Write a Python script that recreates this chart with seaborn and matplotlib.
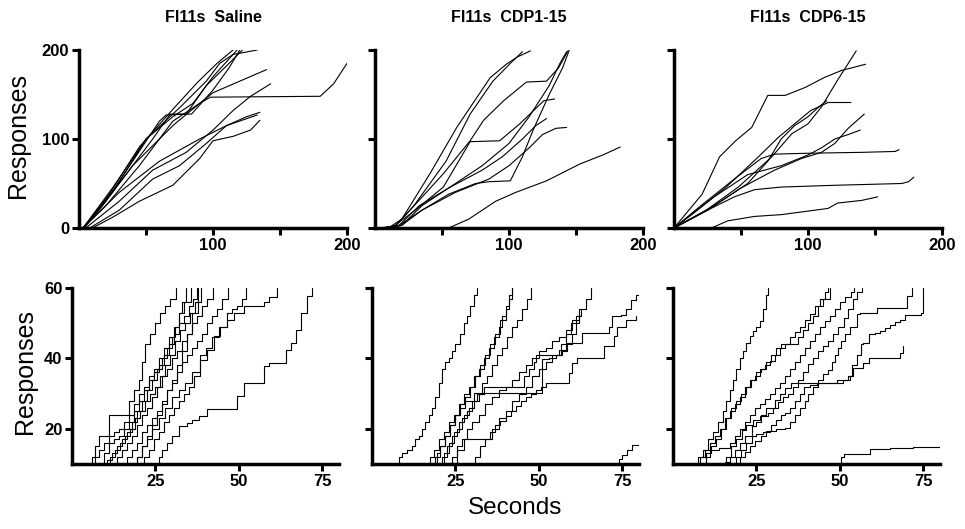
import pandas as pd
import matplotlib
matplotlib.use('Agg')
import matplotlib.pyplot as plt
import seaborn as sns

# cumulative records, one list per session (x = seconds, y = responses)
titles = ['FI11s  Saline', 'FI11s  CDP1-15', 'FI11s  CDP6-15']

saline_top_x = [
    [3, 6, 23, 45, 65, 88, 103, 115],
    [3, 20, 40, 60, 65, 80, 95, 110, 122],
    [3, 25, 50, 75, 95, 105, 115, 133],
    [3, 20, 45, 70, 90, 100, 120, 140],
    [3, 15, 40, 70, 90, 98, 180, 190, 200],
    [5, 30, 55, 80, 100, 115, 128, 143],
    [3, 30, 60, 90, 110, 125, 135],
    [8, 30, 55, 75, 95, 110, 133],
    [10, 25, 45, 70, 90, 100, 115, 128, 135],
    [3, 25, 50, 70, 85, 100, 118],
    [4, 18, 35, 55, 68, 84, 100, 112, 120],
]
saline_top_y = [
    [0, 5, 39, 91, 125, 163, 185, 200],
    [0, 30, 75, 120, 127, 128, 160, 182, 200],
    [0, 40, 100, 135, 165, 185, 195, 200],
    [0, 25, 70, 120, 140, 152, 165, 178],
    [0, 20, 70, 115, 140, 147, 148, 162, 185],
    [0, 30, 65, 85, 110, 132, 148, 162],
    [0, 40, 75, 100, 115, 125, 130],
    [0, 20, 55, 70, 95, 115, 127],
    [0, 12, 30, 48, 78, 98, 103, 110, 121],
    [0, 45, 100, 125, 140, 170, 200],
    [0, 28, 60, 100, 128, 128, 155, 180, 200],
]

cdp1_top_x = [
    [55, 70, 90, 105, 128, 153, 170, 183],
    [2, 10, 20, 41, 61, 86, 98, 106, 116],
    [3, 15, 29, 53, 71, 88, 101, 110],
    [5, 15, 31, 51, 71, 81, 96, 113, 128, 137, 144],
    [8, 15, 30, 51, 71, 93, 108, 126, 134],
    [10, 18, 35, 55, 75, 85, 101, 110, 118, 130, 140, 145],
    [5, 18, 33, 55, 80, 95, 110, 120, 128],
    [12, 20, 35, 60, 85, 100, 115, 125, 135, 143],
    [6, 20, 35, 55, 80, 100, 115, 130, 138, 143],
]
cdp1_top_y = [
    [0, 10, 30, 40, 53, 72, 82, 91],
    [0, 0, 10, 61, 113, 169, 184, 192, 199],
    [0, 2, 25, 75, 128, 165, 185, 198],
    [0, 2, 28, 61, 98, 121, 143, 164, 165, 180, 199],
    [0, 3, 20, 46, 97, 98, 117, 143, 145],
    [0, 3, 20, 38, 50, 52, 53, 80, 110, 150, 180, 200],
    [0, 3, 25, 45, 65, 80, 100, 115, 123],
    [0, 3, 20, 40, 55, 70, 90, 105, 112, 113],
    [0, 3, 25, 45, 70, 95, 125, 160, 185, 198],
]

cdp6_top_x = [
    [0, 21, 34, 46, 58, 70, 83, 98, 112, 125, 143],
    [0, 24, 48, 73, 88, 100, 110, 122, 136],
    [0, 14, 39, 63, 78, 90, 102, 115, 132],
    [0, 30, 55, 70, 80, 90, 100, 108, 114],
    [0, 25, 50, 75, 95, 110, 120, 130, 142],
    [0, 30, 55, 80, 100, 110, 120, 130, 139],
    [0, 20, 45, 65, 75, 100, 140, 165, 168],
    [0, 25, 45, 60, 80, 120, 170, 175, 179],
    [28, 40, 60, 80, 100, 115, 122, 140, 152],
]
cdp6_top_y = [
    [0, 38, 80, 98, 113, 149, 149, 158, 169, 177, 184],
    [0, 20, 46, 80, 106, 117, 136, 166, 199],
    [0, 16, 46, 80, 102, 117, 132, 141, 141],
    [0, 25, 50, 75, 100, 115, 125, 136, 143],
    [0, 20, 45, 65, 78, 85, 95, 112, 128],
    [0, 35, 60, 70, 82, 90, 100, 105, 110],
    [0, 25, 55, 78, 83, 84, 85, 86, 88],
    [0, 20, 35, 43, 46, 48, 50, 52, 57],
    [0, 8, 13, 15, 19, 22, 28, 31, 35],
]

saline_bot_x = [
    [25, 26, 27, 28.5, 30, 32, 34.5, 36, 38, 40.4, 48.4, 49.5, 51.4, 56, 57.4, 59, 63.5, 64, 65.5, 67, 68.5, 70.5, 72],
    [20, 21.5, 23, 24.5, 26, 27.5, 29, 30.5, 32, 33.5, 35, 36.5, 38.4, 40.4, 42.4, 44.4, 46.5, 48.4, 51.4, 57, 57.5, 59, 61.5],
    [18, 19.5, 21, 22.5, 24, 26, 28, 30, 32, 34, 36, 38.4, 40, 42, 44, 46.5, 48, 49.5, 51, 52],
    [15, 16.5, 18, 19.5, 21, 22.5, 24, 25.5, 27, 28.5, 30, 31.5, 33, 34.5, 36, 37.5, 39, 40.5, 42, 43.5, 45, 46.7],
    [12, 13.5, 15, 16.5, 18, 19.5, 21, 22.5, 24, 25.5, 27, 28.5, 30, 31.5, 33, 34.5, 36, 37.5, 39, 40.5, 42.2],
    [10, 11.5, 13, 14.5, 16, 17.5, 19, 20.5, 22, 23.5, 25, 26.5, 28, 29.5, 31, 32.5, 34, 35.5, 37, 38.7],
    [8, 9.5, 11, 12.5, 14, 15.5, 17, 18.5, 20, 21.5, 23, 24.5, 26, 27.5, 29, 30.5, 32, 33.5, 35, 36.2, 37.5],
    [6, 7, 8, 9.5, 11, 12.5, 14, 15.5, 17, 18.5, 20, 21.5, 23, 24.5, 26, 27.5, 29, 30.5, 32, 33.5, 35.7],
    [9, 10.5, 12, 13.5, 15, 16.5, 18, 19.5, 21, 22.5, 24, 25.5, 27, 28.5, 30, 31, 32, 33, 34.2],
    [5, 6, 7, 8, 9.5, 11, 16, 17, 18.5, 20, 21, 22, 23.5, 25, 26.5, 28, 29.5, 31.2],
    [12, 15, 18, 19.5, 21, 22.5, 24, 25.5, 27, 28.5, 30, 31.5, 33, 34.5, 36, 37.7],
]
saline_bot_y = [
    [10, 12, 14, 16, 18, 20.7, 21.6, 22.5, 23.5, 25.6, 25.6, 29.2, 33, 33, 37.8, 38.7, 38.7, 42.5, 44.4, 48.2, 52.9, 57.6, 60],
    [10, 12, 14, 17, 19, 22, 24, 26, 28, 30, 32, 35, 39.6, 42.5, 46.3, 49, 51, 52.9, 54.8, 54.8, 56, 57.5, 60],
    [10, 12, 15, 17, 20, 23, 26, 29, 31, 33, 36, 41, 43, 46, 49, 52.9, 54, 54.8, 57, 60],
    [10, 12, 14, 16, 19, 21, 23, 25, 28, 31, 33, 36, 39, 41, 43, 45, 47, 50, 52, 54, 57, 60],
    [10, 12, 14, 16, 18, 21, 24, 26, 29, 32, 35, 37, 40, 42, 45, 47, 50, 52, 55, 57, 60],
    [10, 12, 14, 16, 18, 20, 23, 25, 28, 30, 32, 35, 38, 41, 45, 48, 50, 53, 56, 60],
    [10, 13, 16, 17, 18, 20, 22, 25, 28, 31, 34, 36, 38, 41, 44, 47, 50, 52, 55, 57, 60],
    [10, 12, 14, 16, 18, 19, 20, 22, 24, 27, 30, 32, 35, 37, 40, 43, 46, 49, 53, 56, 60],
    [10, 11, 13, 15, 17, 19, 22, 25, 28, 31, 34, 37, 40, 43, 46, 49, 53, 56, 60],
    [10, 12, 15, 18, 18, 24, 24, 28, 31, 34, 39, 44, 47, 50, 53, 55, 57, 60],
    [10, 10, 10, 12, 15, 18, 21, 24, 27, 31, 34, 38, 42, 47, 53, 60],
]

cdp1_bot_x = [
    [7, 8, 9, 10.5, 12, 13, 14, 15, 16, 17, 18, 19, 20, 21, 22, 23, 24, 25, 26.5, 27.5, 28.5, 29.5, 30.5, 31.5],
    [16.6, 17.5, 18.5, 20, 21.5, 23, 24.5, 26, 27.5, 29, 30.5, 32, 33.5, 35, 36.5, 38, 39, 40, 41, 41.9],
    [18.6, 19.5, 20.5, 22, 23.5, 25, 26.5, 28, 29.5, 31, 32.5, 34, 35.5, 37, 38.5, 40, 41, 42],
    [19.6, 21, 22.5, 24, 25.5, 27, 28.5, 30, 31.5, 33, 34.5, 36, 37.5, 39, 40.5, 42, 43.5, 45, 46.3, 47.6],
    [22.6, 24, 25.5, 27, 28.5, 30, 32, 34, 36, 38, 40, 42, 44, 46, 48, 50, 52, 54, 56, 58, 60, 62, 64, 65.6],
    [17.6, 19, 20.5, 22, 23.5, 25, 26.5, 28, 30.5, 50.5, 51, 53, 55, 57, 58.5, 60, 61, 62],
    [29.5, 31, 32.5, 34, 35.5, 37, 38.4, 40, 41.5, 43, 44.5, 46, 47.5, 49, 50.5, 52, 58.5, 59, 60, 61.5, 67.5, 69.5, 72.5, 73.5, 76, 79],
    [24, 25.5, 27.5, 34.5, 36, 38, 40, 42, 44, 46, 48, 50, 52, 54, 56, 58, 63, 70.5, 71, 72, 74.5, 76, 77.5, 79, 80.5],
    [72.6, 74, 75, 76.5, 78, 80],
    [20, 21.5, 23, 24.5, 26, 27.5, 29, 30.5, 32, 33.5, 44.4, 45.5, 47, 48.5, 49, 55.5, 56.5, 58, 59.5, 61, 62.5],
]
cdp1_bot_y = [
    [10, 12, 13, 14, 15, 17, 18, 20, 22, 24, 26, 29, 33, 37, 39, 40, 42, 44, 47, 50, 52, 55, 58, 60],
    [10, 12, 14, 17, 19, 22, 24, 27, 30, 32, 35, 37, 40, 43, 46, 49, 52, 55, 58, 60],
    [10, 13, 15, 18, 21, 24, 27, 29, 32, 35, 38, 41, 44, 47, 51, 54, 57, 60],
    [10, 12, 15, 18, 20, 23, 25, 28, 30, 33, 35, 38, 41, 43, 46, 49, 51, 54, 57, 60],
    [10, 12, 15, 17, 20, 22, 24, 27, 29, 31, 32, 34, 36, 38, 40, 42, 43, 45, 46, 48, 51, 54, 57, 60],
    [10, 12, 15, 18, 21, 24, 26, 28, 30.2, 30.2, 39.7, 40, 41, 42, 44, 47, 50, 52.6],
    [10, 12, 15, 17, 19, 21, 22.2, 23.5, 25, 26.5, 28, 29, 30, 31, 32, 33, 33, 35.8, 38.7, 40, 40, 43.4, 46.3, 49, 51, 52],
    [10, 14, 17.2, 17.2, 20, 23, 25, 28, 30, 32, 35, 37, 39, 41, 42.5, 44.4, 47.2, 47.2, 49, 52, 52.4, 54, 56.7, 58, 60],
    [10, 11.5, 12.6, 14, 15.3, 15.3],
    [10, 13, 16, 19, 22, 24, 26, 28, 30, 32, 32, 35, 37, 39, 41, 41, 44, 47, 50, 52, 54],
]

cdp6_bot_x = [
    [6.2, 7.5, 9, 10.5, 12, 13.5, 15, 16, 17, 18, 19, 20, 21, 22, 23, 24, 25, 26, 27, 28, 28.5],
    [6.7, 8, 9.5, 11, 12.5, 14, 15.5, 17, 18.5, 20, 21.5, 23, 24.5, 26, 27.5, 29, 30.5, 32, 33.5, 35, 36.5, 38, 39.5, 41, 42.5, 44, 45.5, 46.3],
    [8.6, 10, 11.5, 13, 14.5, 16, 17.5, 19, 20.5, 22, 23.5, 25, 26.5, 28, 29.5, 31, 32.4, 36, 37.5, 39, 40.5, 42, 43.5, 45, 47],
    [9, 10, 11, 13.7, 17, 18.5, 20, 21.5, 23, 24.5, 26, 27.5, 29, 30.5, 32, 33.5, 35, 36.5, 38, 39.5, 41, 42.5, 44, 45.5, 47, 48.5, 50, 51.5, 53.3, 54.3],
    [14.7, 16, 17.5, 19, 20.6, 22, 24, 26, 28.5, 30, 31.5, 33, 34.5, 36, 37.5, 39, 40.4, 42, 43.5, 45, 46.3, 48, 49.5, 51.3, 52.5, 54, 55.2, 56.7],
    [15.6, 17, 18.5, 20, 21.5, 23.6, 25, 26.5, 28, 30.5, 32, 33.5, 35.4, 42, 51, 53, 54, 57, 58.7, 61, 63, 67, 68, 69],
    [17.6, 19, 20.5, 22, 23.6, 25, 27, 29, 31, 33.5, 35, 36.5, 38, 39.5, 40.4, 42, 43.5, 45, 46.3, 47.5, 48.5, 49.5, 50.3, 51.5, 53, 55.2, 56, 59, 61, 68.2, 70.2, 71.7],
    [18.6, 20, 21.5, 23, 24.5, 26.5, 28, 29.5, 31, 32.5, 33.5, 35, 36.5, 38, 39.4, 41, 43, 46.3, 49, 52.3, 53.5, 55, 56.2, 57, 58.7, 60.5, 62, 63.5, 65, 66.5, 68, 69.6, 73.7, 74.2, 75],
    [48.6, 50.2, 51.2, 58.7, 59, 65, 72, 80],
]
cdp6_bot_y = [
    [10, 12, 14, 17, 19, 22, 25, 28, 31, 34, 37, 40, 42, 44.5, 46.4, 47.8, 49, 50.7, 54, 58, 60],
    [10, 12, 14, 16, 18, 20, 23, 25, 27, 29, 32, 33.8, 35, 37, 38, 39.4, 41, 43, 44, 46, 47.5, 49, 51, 52.5, 55, 57, 59, 60],
    [10, 13, 15, 17, 20, 23, 26, 28, 30, 32, 34, 36, 37, 39, 41, 43, 44, 44, 46, 48, 50, 52, 55, 57, 60],
    [10, 12, 14, 14.6, 16, 18, 20, 22, 24, 26, 27, 28.5, 30, 31.5, 33, 35, 37, 39, 41, 43, 45, 47, 49, 50.5, 52, 54, 56, 57.5, 59, 60],
    [10, 12, 15, 17, 19.8, 21, 22.5, 23.5, 24.5, 26, 27.5, 29, 30, 32, 34, 36, 38.5, 40, 42, 43.5, 45, 47, 49, 51.6, 54, 57, 59, 60],
    [10.5, 12, 14, 16, 18, 20.7, 22, 24, 26, 28.2, 30, 31.5, 33, 33, 34, 34.9, 37.3, 38.6, 40.1, 40.1, 40.1, 40.1, 41.5, 43.5],
    [10, 12, 14, 16, 18, 18.5, 19, 19.5, 20, 20.2, 22, 24, 26, 28, 30, 32, 34, 35.5, 36.6, 39, 41, 43, 45, 47, 49, 52.5, 53, 53, 54.3, 54.3, 57.6, 60],
    [10, 12, 13.5, 15, 16.5, 18, 19.5, 21, 22.5, 24, 24.5, 26, 28, 30, 32, 32.5, 33, 33, 34, 35, 38, 41, 44, 44.5, 46.8, 47.2, 47.7, 48.5, 49.6, 50.3, 51, 52.4, 52.4, 53, 60],
    [10, 11.9, 12.8, 12.8, 14.3, 14.6, 14.9, 15.2],
]


def to_frame(xs, ys):
    rows = []
    for k, (cx, cy) in enumerate(zip(xs, ys)):
        for a, b in zip(cx, cy):
            rows.append((k, a, b))
    return pd.DataFrame(rows, columns=['curve', 'x', 'y'])


sns.set_style('ticks', {'axes.edgecolor': 'black', 'xtick.color': 'black',
                        'ytick.color': 'black', 'text.color': 'black'})
plt.rcParams['font.family'] = ['Liberation Sans', 'DejaVu Sans']

W, H = 965, 529
fig = plt.figure(figsize=(W / 100, H / 100), dpi=100)

top_data = [(saline_top_x, saline_top_y), (cdp1_top_x, cdp1_top_y), (cdp6_top_x, cdp6_top_y)]
bot_data = [(saline_bot_x, saline_bot_y), (cdp1_bot_x, cdp1_bot_y), (cdp6_bot_x, cdp6_bot_y)]
top_left = [79, 375, 674]
bot_left = [72, 372, 673]


def style_axis(ax):
    sns.despine(ax=ax)
    for s in ['left', 'bottom']:
        ax.spines[s].set_linewidth(2.5)
        ax.spines[s].set_color('black')
    ax.tick_params(width=2.2, length=5, labelsize=12, pad=2, direction='out',
                   colors='black')
    ax.set_xlabel('')
    ax.set_ylabel('')
    for lbl in ax.get_xticklabels() + ax.get_yticklabels():
        lbl.set_fontweight('bold')


for i in range(3):
    # top row: whole session
    ax = fig.add_axes([top_left[i] / W, 1 - 228 / H, 268 / W, 178 / H])
    df = to_frame(*top_data[i])
    sns.lineplot(data=df, x='x', y='y', units='curve', estimator=None, sort=False,
                 color='black', linewidth=0.8, legend=False, ax=ax)
    ax.set_xlim(0, 200)
    ax.set_ylim(0, 200)
    ax.set_xticks([50, 100, 150, 200])
    ax.set_xticklabels(['', '100', '', '200'])
    ax.set_yticks([0, 100, 200])
    ax.set_yticklabels(['0', '100', '200'] if i == 0 else ['', '', ''])
    style_axis(ax)
    fig.text((top_left[i] + 134) / W, 1 - 18 / H, titles[i], ha='center', va='center',
             fontsize=11.5, fontweight='bold')

    # bottom row: first 80 s
    ax = fig.add_axes([bot_left[i] / W, 1 - 464 / H, 267 / W, 176 / H])
    df = to_frame(*bot_data[i])
    sns.lineplot(data=df, x='x', y='y', units='curve', estimator=None, sort=False,
                 color='black', linewidth=0.8, legend=False, ax=ax, drawstyle='steps-post')
    ax.set_xlim(0, 80)
    ax.set_ylim(10, 60)
    ax.set_xticks([25, 50, 75])
    ax.set_yticks([20, 40, 60])
    if i > 0:
        ax.set_yticklabels(['', '', ''])
    style_axis(ax)

fig.text(18 / W, 1 - 136 / H, 'Responses', rotation=90, ha='center', va='center', fontsize=18)
fig.text(25 / W, 1 - 372 / H, 'Responses', rotation=90, ha='center', va='center', fontsize=18)
fig.text(515 / W, 1 - 508 / H, 'Seconds', ha='center', va='center', fontsize=17.5)

fig.savefig('out.png', dpi=100, facecolor='white')
